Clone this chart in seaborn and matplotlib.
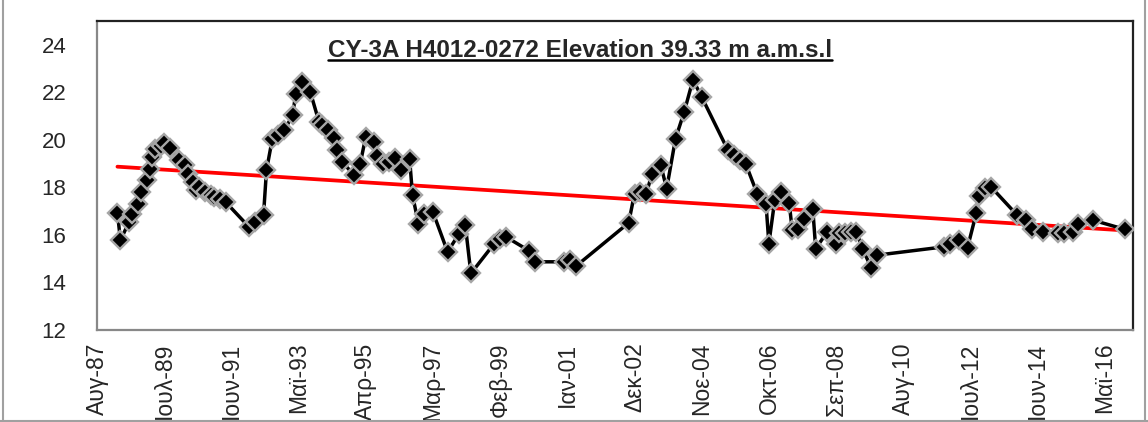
import numpy as np
import pandas as pd
import matplotlib
matplotlib.use("Agg")
import matplotlib.pyplot as plt
import matplotlib.dates as mdates
from matplotlib.lines import Line2D
import seaborn as sns

# groundwater level readings (m)
dates = [
    "1988-03", "1988-04", "1988-07", "1988-08", "1988-10", "1988-11", "1989-01", "1989-02",
    "1989-03", "1989-04", "1989-06", "1989-07", "1989-09", "1989-12", "1990-02", "1990-03",
    "1990-05", "1990-06", "1990-07", "1990-09", "1990-11", "1990-12", "1991-02", "1991-04",
    "1991-12", "1992-02", "1992-05", "1992-06", "1992-08", "1992-10", "1992-12", "1993-03",
    "1993-04", "1993-06", "1993-09", "1993-12", "1994-01", "1994-03", "1994-05", "1994-06",
    "1994-08", "1994-12", "1995-02", "1995-04", "1995-07", "1995-08", "1995-10", "1995-12",
    "1996-02", "1996-04", "1996-07", "1996-08", "1996-10", "1996-12", "1997-03", "1997-08",
    "1997-12", "1998-02", "1998-04", "1998-12", "1999-02", "1999-04", "1999-12", "2000-02",
    "2000-12", "2001-02", "2001-04", "2002-10", "2002-12", "2003-02", "2003-04", "2003-06",
    "2003-09", "2003-11", "2004-02", "2004-05", "2004-08", "2004-11", "2005-08", "2005-10",
    "2005-12", "2006-02", "2006-06", "2006-09", "2006-10", "2006-12", "2007-02", "2007-05",
    "2007-06", "2007-08", "2007-10", "2008-01", "2008-02", "2008-06", "2008-09", "2008-10",
    "2008-12", "2009-02", "2009-04", "2009-06", "2009-09", "2009-11", "2011-10", "2011-12",
    "2012-03", "2012-06", "2012-09", "2012-10", "2012-12", "2013-02", "2013-11", "2014-02",
    "2014-04", "2014-08", "2015-01", "2015-03", "2015-06", "2015-08", "2016-01", "2016-12",
]
levels = [
    16.93, 15.78, 16.55, 16.90, 17.32, 17.81, 18.30, 18.79,
    19.28, 19.63, 19.73, 19.87, 19.67, 19.14, 18.93, 18.58,
    18.23, 17.88, 18.02, 17.81, 17.67, 17.60, 17.53, 17.39,
    16.34, 16.55, 16.83, 18.72, 20.05, 20.19, 20.40, 21.03,
    21.94, 22.43, 22.01, 20.75, 20.61, 20.40, 20.09, 19.56,
    19.07, 18.51, 18.97, 20.12, 19.91, 19.31, 19.00, 19.07,
    19.25, 18.75, 19.21, 17.67, 16.48, 16.90, 16.97, 15.29,
    16.06, 16.44, 14.38, 15.64, 15.85, 15.92, 15.33, 14.87,
    14.87, 14.94, 14.69, 16.51, 17.74, 17.81, 17.71, 18.58,
    18.93, 17.95, 20.05, 21.17, 22.53, 21.80, 19.56, 19.35,
    19.17, 19.00, 17.74, 17.32, 15.64, 17.46, 17.81, 17.35,
    16.20, 16.27, 16.69, 17.11, 15.43, 16.13, 15.61, 16.09,
    16.09, 16.13, 16.13, 15.43, 14.63, 15.15, 15.50, 15.61,
    15.78, 15.47, 16.93, 17.63, 17.99, 18.02, 16.83, 16.62,
    16.27, 16.13, 16.09, 16.09, 16.13, 16.48, 16.62, 16.23,
]

tick_dates = ["1987-08", "1989-07", "1991-06", "1993-05", "1995-04", "1997-03",
              "1999-02", "2001-01", "2002-12", "2004-11", "2006-10", "2008-09",
              "2010-08", "2012-07", "2014-06", "2016-05"]
tick_labels = ["Αυγ-87", "Ιουλ-89", "Ιουν-91", "Μαϊ-93", "Απρ-95", "Μαρ-97",
               "Φεβ-99", "Ιαν-01", "Δεκ-02", "Νοε-04", "Οκτ-06", "Σεπ-08",
               "Αυγ-10", "Ιουλ-12", "Ιουν-14", "Μαϊ-16"]
y_ticks = [12, 14, 16, 18, 20, 22, 24]
title = "CY-3A H4012-0272 Elevation 39.33 m a.m.s.l"

sns.set_style("white")
plt.rcParams['font.family'] = ['Liberation Sans', 'DejaVu Sans']

df = pd.DataFrame({'date': pd.to_datetime(dates), 'level': levels})
df['num'] = mdates.date2num(df['date'])

fig = plt.figure(figsize=(11.48, 4.22), dpi=100)
ax = fig.add_axes([0.0845, 0.218, 0.9025, 0.732])

# linear trend (red) behind the series
sns.regplot(data=df, x='num', y='level', ax=ax, scatter=False, ci=None, truncate=True,
            line_kws={'color': 'red', 'lw': 2.7, 'zorder': 2})
sns.lineplot(data=df, x='num', y='level', ax=ax, color='black', lw=2.5,
             marker='D', ms=9.5, mfc='black', mec='#a6a6a6', mew=1.7, zorder=3)

ax.set_xlim(mdates.date2num(pd.Timestamp("1987-08-01")), mdates.date2num(pd.Timestamp("2017-02-20")))
ax.set_ylim(12, 25)
ax.set_yticks(y_ticks)
ax.set_yticklabels([str(v) for v in y_ticks], fontsize=16)
ax.set_xticks(mdates.date2num(pd.to_datetime(tick_dates)))
ax.set_xticklabels(tick_labels, rotation=90, fontsize=16.5, va='top', ha='center')
ax.tick_params(axis='y', length=0, pad=22)
ax.tick_params(axis='x', length=0, pad=9)
ax.set_xlabel('')
ax.set_ylabel('')

for side in ['left', 'bottom']:
    ax.spines[side].set_color('#888888')
    ax.spines[side].set_linewidth(1.6)
for side in ['top', 'right']:
    ax.spines[side].set_color('#222222')
    ax.spines[side].set_linewidth(1.6)

t = ax.text(0.466, 0.905, title, transform=ax.transAxes, ha='center', va='center',
            fontsize=17.5, fontweight='bold')

# underline the title
fig.canvas.draw()
bb = t.get_window_extent().transformed(fig.transFigure.inverted())
fig.add_artist(Line2D([bb.x0, bb.x1], [bb.y0 + 0.004, bb.y0 + 0.004],
                      transform=fig.transFigure, color='black', lw=1.8))

# outer chart frame
for xs, ys in [([0.003, 0.003], [0, 1]), ([0.997, 0.997], [0, 1]), ([0, 1], [0.003, 0.003])]:
    fig.add_artist(Line2D(xs, ys, transform=fig.transFigure, color='#a0a0a0', lw=1.5))

fig.savefig('out.png', dpi=100)
